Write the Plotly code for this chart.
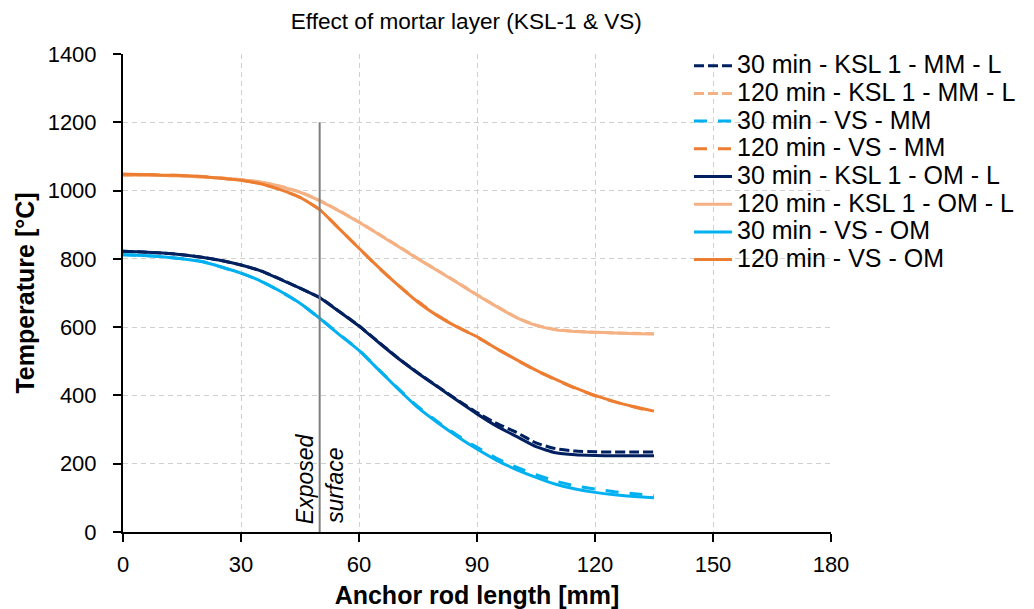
import plotly.graph_objects as go

x_mm = [0, 5, 10, 15, 20, 25, 30, 35, 40, 45, 50, 55, 60, 65, 70, 75, 80, 85,
        90, 95, 100, 105, 110, 115, 120, 125, 130, 135]

ksl_30_mm = [822, 820, 817, 812, 805, 795, 782, 765, 741, 714, 687, 646, 604, 556, 509, 466, 426, 387,
             350, 318, 292, 261, 244, 237, 235, 234, 234, 234]
ksl_120_mm = [1045, 1045, 1044, 1043, 1040, 1037, 1032, 1025, 1013, 996, 971, 941, 908, 873, 837, 801, 766, 731,
              695, 661, 629, 606, 593, 588, 585, 583, 582, 581]
vs_30_mm = [812, 810, 806, 800, 792, 776, 758, 735, 705, 670, 626, 579, 533, 476, 420, 367, 323, 283,
            248, 216, 190, 168, 149, 135, 126, 118, 112, 107]
vs_120_mm = [1048, 1047, 1045, 1044, 1041, 1036, 1030, 1020, 1003, 980, 944, 888, 831, 774, 722, 675, 634, 601,
             571, 537, 504, 473, 446, 421, 399, 381, 366, 352]
ksl_30_om = [822, 820, 817, 812, 805, 795, 782, 765, 740, 714, 686, 645, 603, 555, 508, 465, 425, 385,
             346, 310, 280, 250, 232, 226, 224, 223, 223, 223]
ksl_120_om = [1045, 1045, 1044, 1043, 1040, 1037, 1032, 1025, 1012, 995, 970, 940, 907, 872, 836, 800, 765, 730,
              694, 660, 628, 605, 592, 587, 585, 583, 581, 580]
vs_30_om = [812, 810, 806, 800, 792, 776, 758, 735, 705, 670, 626, 578, 532, 475, 418, 364, 320, 280,
            243, 210, 183, 160, 140, 126, 116, 109, 104, 100]
vs_120_om = [1048, 1047, 1045, 1044, 1041, 1036, 1030, 1020, 1003, 980, 944, 888, 831, 775, 722, 673, 633, 600,
             572, 537, 505, 474, 447, 422, 400, 382, 367, 354]

series = [
    ("30 min - KSL 1 - MM - L", ksl_30_mm, "#002060", "10px,4px"),
    ("120 min - KSL 1 - MM - L", ksl_120_mm, "#F4B183", "10px,4px"),
    ("30 min - VS - MM", vs_30_mm, "#00B0F0", "13px,11px"),
    ("120 min - VS - MM", vs_120_mm, "#ED7D31", "13px,11px"),
    ("30 min - KSL 1 - OM - L", ksl_30_om, "#002060", "solid"),
    ("120 min - KSL 1 - OM - L", ksl_120_om, "#F4B183", "solid"),
    ("30 min - VS - OM", vs_30_om, "#00B0F0", "solid"),
    ("120 min - VS - OM", vs_120_om, "#ED7D31", "solid"),
]

FONT = "Liberation Sans, Arial, sans-serif"

fig = go.Figure()
for name, ys, color, dash in series:
    fig.add_trace(go.Scatter(x=x_mm, y=ys, mode="lines",
                             name='<span style="font-size:25px">' + name + '</span>',
                             line=dict(color=color, width=3, dash=dash, shape="spline", smoothing=0.5)))

fig.add_shape(type="line", xref="x", yref="y", x0=50, x1=50, y0=0, y1=1200,
              line=dict(color="#7F7F7F", width=2))

fig.add_annotation(x=46.3, y=155, xref="x", yref="y", text="<i>Exposed</i>", textangle=-90,
                   showarrow=False, font=dict(family=FONT, size=23, color="#000000"))
fig.add_annotation(x=53.9, y=135, xref="x", yref="y", text="<i>surface</i>", textangle=-90,
                   showarrow=False, font=dict(family=FONT, size=23, color="#000000"))

fig.update_layout(
    width=1034, height=609,
    paper_bgcolor="white", plot_bgcolor="white",
    margin=dict(l=123, r=203, t=54, b=77),
    font=dict(family=FONT, size=22, color="#000000"),
    title=dict(text="Effect of mortar layer (KSL-1 & VS)", x=0.451, xanchor="center",
               y=0.965, yanchor="middle", font=dict(family=FONT, size=22.6, color="#000000")),
    showlegend=True,
    legend=dict(x=0.7994, y=1.015, xanchor="left", yanchor="top", bgcolor="rgba(0,0,0,0)",
                font=dict(family=FONT, size=19, color="#000000"), tracegroupgap=0,
                itemwidth=38),
    xaxis=dict(range=[0, 180], tickvals=[0, 30, 60, 90, 120, 150, 180], showline=True,
               linecolor="#000000", linewidth=2, ticks="outside", ticklen=8, tickwidth=2,
               tickcolor="#000000", showgrid=True, gridcolor="#D0D0D0", griddash="5px,4px",
               gridwidth=1, zeroline=False, ticklabelstandoff=4, automargin=False,
               title=dict(text="<b>Anchor rod length [mm]</b>", standoff=15,
                          font=dict(family=FONT, size=25))),
    yaxis=dict(range=[0, 1400], tickvals=list(range(0, 1401, 200)), showline=True,
               linecolor="#000000", linewidth=2, ticks="outside", ticklen=8, tickwidth=2,
               tickcolor="#000000", showgrid=True, gridcolor="#D0D0D0", griddash="5px,4px",
               gridwidth=1, zeroline=False, ticklabelstandoff=12, automargin=False,
               title=dict(text="<b>Temperature [°C]</b>", standoff=6,
                          font=dict(family=FONT, size=25))),
)

fig.write_html("out.html")
